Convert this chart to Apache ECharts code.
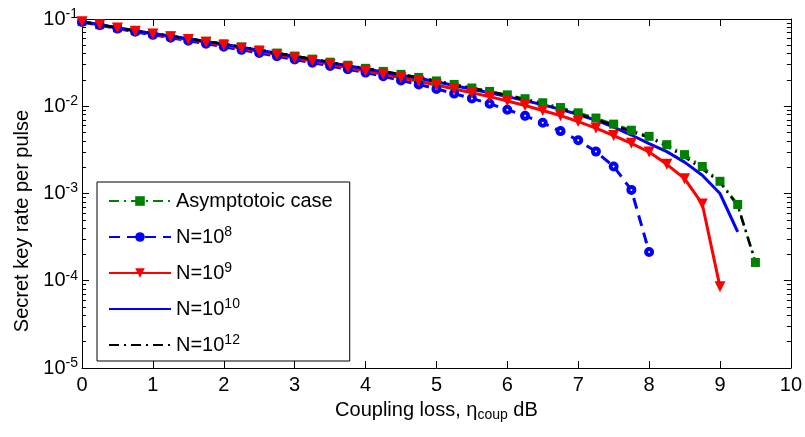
<!DOCTYPE html>
<html><head><meta charset="utf-8">
<script src="https://cdn.jsdelivr.net/npm/echarts@6/dist/echarts.min.js"></script>
<style>html,body{margin:0;padding:0;background:#fff}#c{width:805px;height:437px}</style>
</head><body><div id="c"></div>
<script>
// ---- data ----
const xAsym = [0,0.25,0.5,0.75,1,1.25,1.5,1.75,2,2.25,2.5,2.75,3,3.25,3.5,3.75,4,4.25,4.5,4.75,5,5.25,5.5,5.75,6,6.25,6.5,6.75,7,7.25,7.5,7.75,8,8.25,8.5,8.75,9,9.25,9.5];
const yAsym = [0.0933,0.0861,0.0794,0.0733,0.0684,0.0638,0.0596,0.0556,0.0519,0.0479,0.0442,0.0407,0.0376,0.0347,0.0320,0.0295,0.0272,0.0251,0.0232,0.0214,0.0195,0.0178,0.0162,0.0148,0.0135,0.0122,0.01096,0.00966,0.00841,0.00733,0.00624,0.00531,0.00452,0.00363,0.00279,0.00204,0.00138,0.000748,0.000162];

const xN8 = [0,0.25,0.5,0.75,1,1.25,1.5,1.75,2,2.25,2.5,2.75,3,3.25,3.5,3.75,4,4.25,4.5,4.75,5,5.25,5.5,5.75,6,6.25,6.5,6.75,7,7.25,7.5,7.75,8];
const yN8 = [0.0923,0.0847,0.0776,0.0713,0.0658,0.0610,0.0562,0.0520,0.0481,0.0443,0.0407,0.0375,0.0344,0.0316,0.0290,0.0265,0.0243,0.0221,0.0197,0.0178,0.0158,0.01396,0.0123,0.0107,0.00912,0.00776,0.00646,0.00519,0.00407,0.00302,0.00204,0.0011,0.000214];

const xN9 = [0,0.25,0.5,0.75,1,1.25,1.5,1.75,2,2.25,2.5,2.75,3,3.25,3.5,3.75,4,4.25,4.5,4.75,5,5.25,5.5,5.75,6,6.25,6.5,6.75,7,7.25,7.5,7.75,8,8.25,8.5,8.75,9];
const yN9 = [0.0933,0.0857,0.0789,0.0726,0.0673,0.0625,0.0581,0.0540,0.0501,0.0461,0.0425,0.0390,0.0358,0.0329,0.0302,0.0277,0.0254,0.0232,0.0212,0.0193,0.0175,0.0158,0.0143,0.0129,0.0115,0.0102,0.00895,0.0078,0.00668,0.00562,0.00462,0.00376,0.00299,0.00216,0.00148,0.000759,0.0000851];

const xN10 = [0,0.25,0.5,0.75,1,1.25,1.5,1.75,2,2.25,2.5,2.75,3,3.25,3.5,3.75,4,4.25,4.5,4.75,5,5.25,5.5,5.75,6,6.25,6.5,6.75,7,7.25,7.5,7.75,8,8.25,8.5,8.75,9,9.25];
const yN10 = [0.0933,0.0861,0.0794,0.0733,0.0682,0.0637,0.0593,0.0553,0.0515,0.0475,0.0439,0.0404,0.0372,0.0343,0.0316,0.0291,0.0268,0.0247,0.0227,0.0209,0.0191,0.0173,0.0157,0.0143,0.0129,0.0116,0.0104,0.0092,0.00804,0.00692,0.00575,0.00468,0.00372,0.00302,0.00229,0.00162,0.00100,0.000363];

const xN12 = [0,0.25,0.5,0.75,1,1.25,1.5,1.75,2,2.25,2.5,2.75,3,3.25,3.5,3.75,4,4.25,4.5,4.75,5,5.25,5.5,5.75,6,6.25,6.5,6.75,7,7.25,7.5,7.75,8,8.25,8.5,8.75,9,9.25,9.5];
const yN12 = [0.0933,0.0861,0.0794,0.0733,0.0684,0.0638,0.0596,0.0556,0.0519,0.0479,0.0442,0.0407,0.0376,0.0347,0.0320,0.0295,0.0272,0.0251,0.0232,0.0214,0.0195,0.0178,0.0162,0.0148,0.01334,0.0119,0.01059,0.00933,0.00813,0.00708,0.00603,0.00513,0.00437,0.00347,0.00263,0.00191,0.00135,0.000724,0.000166];

const seriesNames = ['Asymptotoic case','N=10^8','N=10^9','N=10^10','N=10^12'];
const legendLabels = ['{b|Asymptotoic case}','{b|N=10}{s|8}','{b|N=10}{s|9}','{b|N=10}{s|10}','{b|N=10}{s|12}'];
const xTicks = [0,1,2,3,4,5,6,7,8,9,10];
const yDecades = [1e-5,1e-4,1e-3,1e-2,1e-1];
const xTitle = '{b|Coupling loss, η}{sub|coup}{b| dB}';
const yTitle = 'Secret key rate per pulse';

// ---- chart ----
const FONT = '"Liberation Sans", Arial, Helvetica, sans-serif';
const pair = (xs, ys) => xs.map((x, i) => [x, ys[i]]);
const minorLogs = [];
for (let n = -5; n < -1; n++) for (let k = 2; k <= 9; k++) minorLogs.push(n + Math.log10(k));

const richBase = {
  b: {fontSize: 20, fontFamily: FONT, color: '#000', lineHeight: 24, verticalAlign: 'middle'},
  s: {fontSize: 14, fontFamily: FONT, color: '#000', lineHeight: 14, verticalAlign: 'top'},
  sub: {fontSize: 14, fontFamily: FONT, color: '#000', lineHeight: 14, verticalAlign: 'bottom'}
};

const legendItem = (n, i) => {
  if (i >= 3) return {name: n, itemStyle: {opacity: 0}};
  if (i === 1) return {name: n, itemStyle: {color: '#0000ff', borderColor: '#0000ff', borderWidth: 0}};
  return {name: n};
};

const axLine = {show: true, onZero: false, lineStyle: {color: '#000', width: 1}};
const chart = echarts.init(document.getElementById('c'), null, {renderer: 'canvas'});
const option = {
  animation: false,
  backgroundColor: '#fff',
  grid: {left: 82, right: 11, top: 19, bottom: 69, containLabel: false},
  xAxis: [
    {type: 'value', min: 0, max: 10, interval: 1, position: 'bottom',
     axisLine: axLine, axisTick: {show: true, inside: true, length: 7, lineStyle: {color: '#000'}},
     axisLabel: {show: true, margin: 7, fontSize: 20, fontFamily: FONT, color: '#000',
       formatter: v => xTicks.includes(v) ? String(v) : ''},
     splitLine: {show: false},
     name: xTitle, nameLocation: 'middle', nameGap: 30,
     nameTextStyle: {rich: richBase}},
    {type: 'value', min: 0, max: 10, interval: 1, position: 'top',
     axisLine: axLine, axisTick: {show: true, inside: true, length: 7, lineStyle: {color: '#000'}},
     axisLabel: {show: false}, splitLine: {show: false}}
  ],
  yAxis: [
    {type: 'log', logBase: 10, min: yDecades[0], max: yDecades[yDecades.length - 1], position: 'left',
     axisLine: axLine, axisTick: {show: true, inside: true, length: 7, lineStyle: {color: '#000'}},
     axisLabel: {show: true, margin: 4, rich: richBase,
       formatter: v => '{b|10}{s|' + Math.round(Math.log10(v)) + '}'},
     splitLine: {show: false}, minorTick: {show: false}},
    {type: 'log', logBase: 10, min: yDecades[0], max: yDecades[yDecades.length - 1], position: 'right',
     axisLine: axLine, axisTick: {show: true, inside: true, length: 7, lineStyle: {color: '#000'}},
     axisLabel: {show: false}, splitLine: {show: false}},
    {type: 'value', min: -5, max: -1, position: 'left',
     axisLine: {show: false, onZero: false},
     axisTick: {show: true, inside: true, length: 4, customValues: minorLogs, lineStyle: {color: '#000'}},
     axisLabel: {show: false}, splitLine: {show: false}},
    {type: 'value', min: -5, max: -1, position: 'right',
     axisLine: {show: false, onZero: false},
     axisTick: {show: true, inside: true, length: 4, customValues: minorLogs, lineStyle: {color: '#000'}},
     axisLabel: {show: false}, splitLine: {show: false}}
  ],
  legend: {
    show: true, orient: 'vertical', left: 97, top: 182,
    padding: [9, 17, 6, 11], itemGap: 14, itemWidth: 62, itemHeight: 12,
    backgroundColor: '#fff', borderColor: '#000', borderWidth: 1, borderRadius: 0,
    data: seriesNames.map(legendItem),
    formatter: name => legendLabels[seriesNames.indexOf(name)],
    textStyle: {rich: richBase, fontSize: 20, fontFamily: FONT, color: '#000'}
  },
  graphic: [{
    type: 'text', x: 22, y: 221, rotation: Math.PI / 2,
    style: {text: yTitle, font: '20px ' + FONT, fill: '#000', align: 'center', verticalAlign: 'middle'}
  }],
  series: [
    {name: seriesNames[0], type: 'line', data: pair(xAsym, yAsym), clip: false,
     lineStyle: {color: '#008000', width: 2.5, type: [10, 5, 2, 5]},
     symbol: 'rect', symbolSize: 9, showAllSymbol: true,
     itemStyle: {color: '#008000', borderColor: '#008000', borderWidth: 0}},
    {name: seriesNames[1], type: 'line', data: pair(xN8, yN8), clip: false,
     lineStyle: {color: '#0000ff', width: 3, type: [11, 7]},
     symbol: 'circle', symbolSize: 6, showAllSymbol: true,
     itemStyle: {color: '#ffffff', borderColor: '#0000ff', borderWidth: 4}},
    {name: seriesNames[2], type: 'line', data: pair(xN9, yN9), clip: false,
     lineStyle: {color: '#ff0000', width: 3},
     symbol: 'triangle', symbolRotate: 180, symbolSize: 11, showAllSymbol: true,
     itemStyle: {color: '#ff0000', borderWidth: 0}},
    {name: seriesNames[3], type: 'line', data: pair(xN10, yN10), clip: false,
     lineStyle: {color: '#0000ff', width: 3},
     symbol: 'none', itemStyle: {color: '#0000ff'}},
    {name: seriesNames[4], type: 'line', data: pair(xN12, yN12), clip: false,
     lineStyle: {color: '#000000', width: 2.5, type: [10, 5, 2, 5]},
     symbol: 'none', itemStyle: {color: '#000000'}}
  ]
};
chart.setOption(option);
</script></body></html>
